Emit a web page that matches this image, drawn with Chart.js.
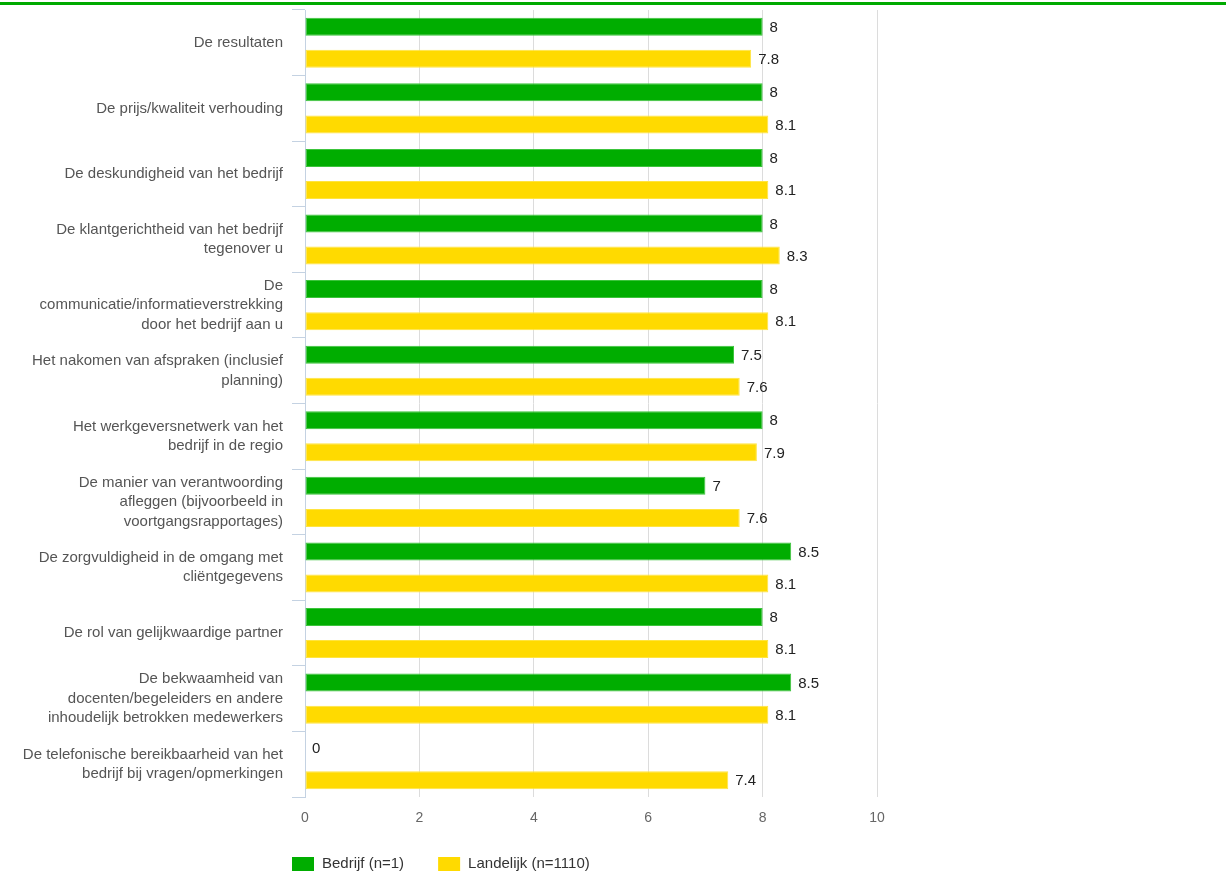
<!DOCTYPE html>
<html>
<head>
<meta charset="utf-8">
<script src="https://cdn.jsdelivr.net/npm/chart.js@4/dist/chart.umd.min.js"></script>
<style>
  html, body { margin: 0; padding: 0; background: #fff; }
  #wrap { width: 1226px; height: 888px; }
</style>
</head>
<body>
<div id="wrap"><canvas id="chart" width="1226" height="888"></canvas></div>
<script>
// Categorieën (labels per regel)
const categories = [
  ['De resultaten'],
  ['De prijs/kwaliteit verhouding'],
  ['De deskundigheid van het bedrijf'],
  ['De klantgerichtheid van het bedrijf', 'tegenover u'],
  ['De', 'communicatie/informatieverstrekking', 'door het bedrijf aan u'],
  ['Het nakomen van afspraken (inclusief', 'planning)'],
  ['Het werkgeversnetwerk van het', 'bedrijf in de regio'],
  ['De manier van verantwoording', 'afleggen (bijvoorbeeld in', 'voortgangsrapportages)'],
  ['De zorgvuldigheid in de omgang met', 'cliëntgegevens'],
  ['De rol van gelijkwaardige partner'],
  ['De bekwaamheid van', 'docenten/begeleiders en andere', 'inhoudelijk betrokken medewerkers'],
  ['De telefonische bereikbaarheid van het', 'bedrijf bij vragen/opmerkingen']
];

const bedrijf = [8, 8, 8, 8, 8, 7.5, 8, 7, 8.5, 8, 8.5, 0];
const landelijk = [7.8, 8.1, 8.1, 8.3, 8.1, 7.6, 7.9, 7.6, 8.1, 8.1, 8.1, 7.4];

const seriesNames = ['Bedrijf (n=1)', 'Landelijk (n=1110)'];
const xTicks = [0, 2, 4, 6, 8, 10];

const FONT = "'Liberation Sans', Arial, sans-serif";

// Groene lijn bovenaan
const topLine = {
  id: 'topLine',
  beforeDraw(chart) {
    const c = chart.ctx;
    c.save();
    c.fillStyle = '#00aa00';
    c.fillRect(0, 2, chart.width, 3);
    c.restore();
  }
};

// Waarden naast de balken
const valueLabels = {
  id: 'valueLabels',
  afterDatasetsDraw(chart) {
    const c = chart.ctx;
    c.save();
    c.font = '15px ' + FONT;
    c.fillStyle = '#222';
    c.textAlign = 'left';
    c.textBaseline = 'middle';
    chart.data.datasets.forEach((ds, i) => {
      chart.getDatasetMeta(i).data.forEach((bar, j) => {
        c.fillText(String(ds.data[j]), bar.x + 7, bar.y + 1);
      });
    });
    c.restore();
  }
};

// Legenda linksonder
const bottomLegend = {
  id: 'bottomLegend',
  afterDraw(chart) {
    const c = chart.ctx;
    c.save();
    c.font = '15px ' + FONT;
    c.textBaseline = 'middle';
    c.textAlign = 'left';
    let x = chart.chartArea.left - 13;
    const y = 857;
    chart.data.datasets.forEach(ds => {
      c.fillStyle = ds.backgroundColor;
      c.fillRect(x, y, 22, 14);
      c.fillStyle = '#333';
      c.fillText(ds.label, x + 30, y + 7);
      x += 30 + c.measureText(ds.label).width + 34;
    });
    c.restore();
  }
};

new Chart(document.getElementById('chart'), {
  type: 'bar',
  data: {
    labels: categories,
    datasets: [
      {
        label: seriesNames[0],
        data: bedrijf,
        backgroundColor: '#00ad00',
        borderColor: '#3cc43c',
        borderWidth: 1,
        borderSkipped: false,
        categoryPercentage: 0.98,
        barPercentage: 0.56
      },
      {
        label: seriesNames[1],
        data: landelijk,
        backgroundColor: '#ffda00',
        borderColor: '#ffe440',
        borderWidth: 1,
        borderSkipped: false,
        categoryPercentage: 0.98,
        barPercentage: 0.56
      }
    ]
  },
  options: {
    indexAxis: 'y',
    responsive: false,
    animation: false,
    layout: { padding: { top: 10, right: 349, bottom: 0, left: 0 } },
    plugins: {
      legend: { display: false },
      tooltip: { enabled: false }
    },
    scales: {
      x: {
        min: 0,
        max: 10,
        afterBuildTicks(scale) {
          scale.ticks = xTicks.map(v => ({ value: v }));
        },
        afterFit(scale) {
          scale.height = 91;
          scale.paddingLeft = 0;
          scale.paddingRight = 0;
        },
        grid: { color: '#dcdcdc', drawTicks: false },
        border: { display: false },
        ticks: {
          padding: 13,
          color: '#666',
          font: { family: FONT, size: 14 }
        }
      },
      y: {
        afterFit(scale) {
          scale.width = 305;
          scale.paddingTop = 0;
          scale.paddingBottom = 0;
        },
        grid: {
          offset: true,
          drawOnChartArea: false,
          tickLength: 13,
          color: '#c4d2e2'
        },
        border: { display: true, color: '#c4d2e2' },
        ticks: {
          padding: 9,
          color: '#555',
          font: { family: FONT, size: 15, lineHeight: 1.3 }
        }
      }
    }
  },
  plugins: [topLine, valueLabels, bottomLegend]
});
</script>
</body>
</html>
